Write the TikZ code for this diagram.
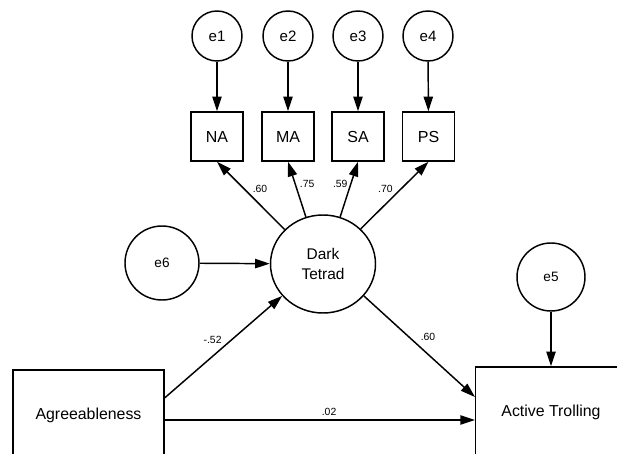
\documentclass[tikz,border=0pt]{standalone}
\usepackage{fontspec}
\setmainfont{Liberation Sans}
\usetikzlibrary{arrows.meta,shapes.geometric}

\begin{document}
\begin{tikzpicture}[x=0.75pt, y=-0.75pt, line width=1.1pt,
	>={Triangle[length=11pt, width=7pt]},
	err/.style={draw, circle, inner sep=0pt, font=\fontsize{11.3}{13}\selectfont},
	obs/.style={draw, rectangle, inner sep=0pt, minimum width=39pt, minimum height=36.75pt, font=\fontsize{12}{13}\selectfont},
	big/.style={draw, rectangle, inner sep=0pt, minimum width=113pt, minimum height=67.5pt, font=\fontsize{11.9}{13}\selectfont},
	latent/.style={draw, ellipse, inner sep=0pt, minimum width=78.75pt, minimum height=73.5pt, align=center, font=\fontsize{11.6}{14.3}\selectfont},
	lbl/.style={inner sep=2pt, font=\fontsize{7.8}{9}\selectfont}]
	\useasboundingbox (0,0) rectangle (617,453);
	\begin{scope}
		\clip (0,0) rectangle (617,453);
		\node [err, minimum size=37.5pt] (e1) at (217,36) {e1};
		\node [err, minimum size=37.5pt] (e2) at (288,36) {e2};
		\node [err, minimum size=37.5pt] (e3) at (358,36) {e3};
		\node [err, minimum size=37.5pt] (e4) at (428,36) {e4};
		\node [obs] (na) at (217,136.5) {NA};
		\node [obs] (ma) at (288,136.5) {MA};
		\node [obs] (sa) at (358,136.5) {SA};
		\node [obs] (ps) at (428.5,136.5) {PS};
		\node [latent] (dt) at (323,264) {Dark\\Tetrad};
		\node [err, minimum size=55.5pt, font=\fontsize{10.2}{12}\selectfont] (e6) at (162,263) {e6};
		\node [err, minimum size=51pt, font=\fontsize{10.2}{12}\selectfont] (e5) at (551,277) {e5};
		\node [big] (agr) at (88.5,415) {Agreeableness};
		\node [big] (at) at (551,412) {Active Trolling};
		\foreach \e/\o in {e1/na, e2/ma, e3/sa, e4/ps}
			\draw [->] (\e) -- (\o);
		\draw [->] (dt.138) -- (na.south) node [lbl, pos=0.6, right=4pt] {.60};
		\draw [->] (dt.110) -- (ma.south) node [lbl, pos=0.6, right=1pt] {.75};
		\draw [->] (dt.70) -- (sa.south) node [lbl, pos=0.6, left=0pt] {.59};
		\draw [->] (dt.43) -- (ps.south) node [lbl, pos=0.6, left=4pt] {.70};
		\draw [->] (e6) -- (dt);
		\draw [->] (e5) -- (at);
		\draw [->] ([yshift=12.75pt]agr.east) -- (dt.218) node [lbl, pos=0.57, left=5pt] {-.52};
		\draw [->] (dt.-38) -- ([yshift=11.25pt]at.west) node [lbl, pos=0.41, right=6pt] {.60};
		\draw ([yshift=-3.75pt]agr.east) coordinate (a1);
		\draw [->] (a1) -- (a1 -| at.west) node [lbl, pos=0.53, above=1pt] {.02};
	\end{scope}
\end{tikzpicture}
\end{document}
